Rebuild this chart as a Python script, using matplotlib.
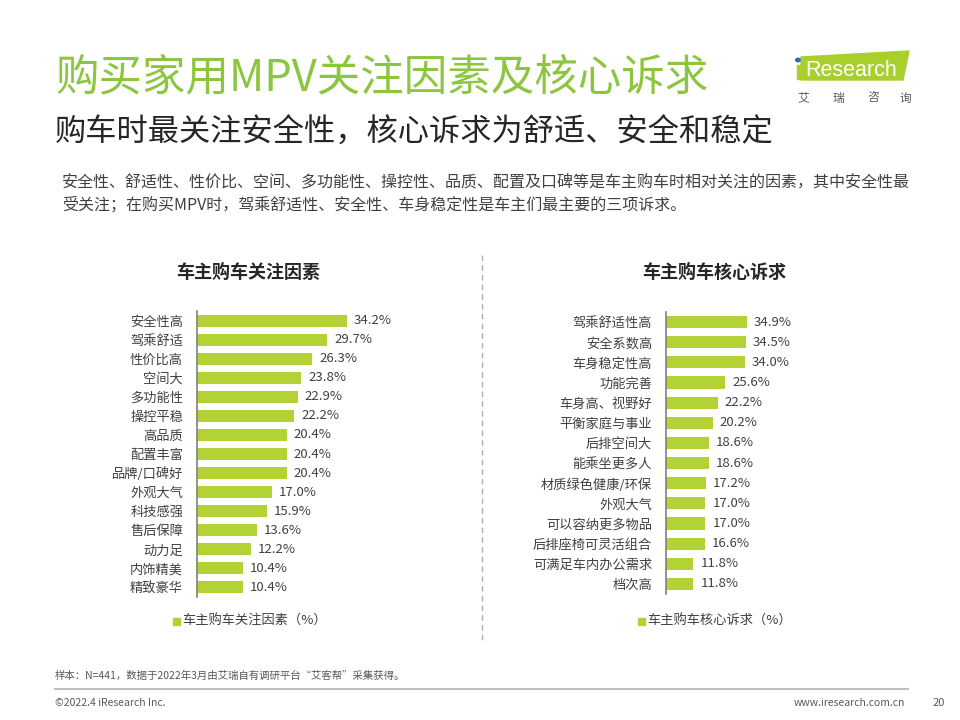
import matplotlib.pyplot as plt
from matplotlib.patches import Polygon, Rectangle, Circle
from matplotlib.lines import Line2D

plt.rcParams['font.family'] = ['Noto Sans CJK SC', 'DejaVu Sans']

left_labels = ['安全性高', '驾乘舒适', '性价比高', '空间大', '多功能性', '操控平稳', '高品质',
               '配置丰富', '品牌/口碑好', '外观大气', '科技感强', '售后保障', '动力足',
               '内饰精美', '精致豪华']
left_values = [34.2, 29.7, 26.3, 23.8, 22.9, 22.2, 20.4, 20.4, 20.4, 17.0, 15.9, 13.6, 12.2,
               10.4, 10.4]

right_labels = ['驾乘舒适性高', '安全系数高', '车身稳定性高', '功能完善', '车身高、视野好',
                '平衡家庭与事业', '后排空间大', '能乘坐更多人', '材质绿色健康/环保', '外观大气',
                '可以容纳更多物品', '后排座椅可灵活组合', '可满足车内办公需求', '档次高']
right_values = [34.9, 34.5, 34.0, 25.6, 22.2, 20.2, 18.6, 18.6, 17.2, 17.0, 17.0, 16.6, 11.8,
                11.8]

W, H = 960, 720
BAR = '#b2d235'
GREEN = '#8cc63f'
TXT = '#404040'

fig = plt.figure(figsize=(9.6, 7.2), dpi=100)


def box(x0, y0, x1, y1):
    # pixel box (top-left origin) -> figure rect
    return [x0 / W, 1 - y1 / H, (x1 - x0) / W, (y1 - y0) / H]


def px(x, y):
    return x / W, 1 - y / H


def bar_panel(rect, labels, values, xmax, height):
    ax = fig.add_axes(rect)
    pos = list(range(len(labels)))
    ax.barh(pos, values, height=height, color=BAR)
    ax.set_ylim(len(labels) - 0.5, -0.5)
    ax.set_xlim(0, xmax)
    ax.set_yticks(pos)
    ax.set_yticklabels(labels, fontsize=9.5, color=TXT)
    ax.tick_params(axis='y', length=0, pad=10)
    ax.set_xticks([])
    for s in ['top', 'right', 'bottom']:
        ax.spines[s].set_visible(False)
    ax.spines['left'].set_color('#808080')
    ax.spines['left'].set_linewidth(1.2)
    for p, v in zip(pos, values):
        ax.annotate('%.1f%%' % v, (v, p), xytext=(5, 0), textcoords='offset points',
                    va='center', ha='left', fontsize=9.5, color=TXT)
    ax.patch.set_alpha(0)
    return ax


bar_panel(box(197, 311, 400, 597), left_labels, left_values, 203 / 4.39, 0.63)
bar_panel(box(666, 312, 820, 594), right_labels, right_values, 154 / 2.32, 0.6)

# titles
fig.text(*px(55, 78), '购买家用MPV关注因素及核心诉求', fontsize=31.3, color=GREEN, va='center')
fig.text(*px(55, 133), '购车时最关注安全性，核心诉求为舒适、安全和稳定', fontsize=22.5,
         color='#262626', va='center')
fig.text(*px(62, 183), '安全性、舒适性、性价比、空间、多功能性、操控性、品质、配置及口碑等是车主购车时相对关注的因素，其中安全性最',
         fontsize=11.5, color=TXT, va='center')
fig.text(*px(62, 205), '受关注；在购买MPV时，驾乘舒适性、安全性、车身稳定性是车主们最主要的三项诉求。',
         fontsize=11.5, color=TXT, va='center')

fig.text(*px(248, 272), '车主购车关注因素', fontsize=13, fontweight='bold', color='#262626',
         ha='center', va='center')
fig.text(*px(714, 272), '车主购车核心诉求', fontsize=13, fontweight='bold', color='#262626',
         ha='center', va='center')

# divider
fig.add_artist(Line2D([482 / W, 482 / W], [1 - 255 / H, 1 - 642 / H], color='#b0b0b0',
                      lw=1, ls=(0, (4, 3))))

# legends
for x, label in [(173, '车主购车关注因素（%）'), (638, '车主购车核心诉求（%）')]:
    fig.add_artist(Rectangle(px(x, 625), 7 / W, 7 / H, color=BAR, transform=fig.transFigure))
    fig.text(*px(x + 9, 621), label, fontsize=9.5, color=TXT, va='center')

# logo
logo = [(801, 57), (909, 51), (903, 80), (801, 80)]
fig.add_artist(Polygon([px(x, y) for x, y in logo], closed=True, color='#a8cf2c',
                       transform=fig.transFigure))
fig.add_artist(Circle(px(798, 60), 2.3 / W, color='#2a6ebb', transform=fig.transFigure))
fig.add_artist(Rectangle(px(796.5, 79), 3 / W, 14 / H, color='#a8cf2c',
                         transform=fig.transFigure))
fig.text(*px(805, 70), 'Research', fontsize=15.5, color='white', va='center',
         family=['Liberation Sans', 'DejaVu Sans'])
for cx, ch in zip([803, 838, 873, 905], '艾瑞咨询'):
    fig.text(*px(cx, 98), ch, fontsize=8.5, color='#595959', va='center', ha='center')

# footer
fig.text(*px(55, 676), '样本：N=441，数据于2022年3月由艾瑞自有调研平台“艾客帮”采集获得。', fontsize=7.5,
         color='#595959', va='center')
fig.add_artist(Line2D([55 / W, 908 / W], [1 - 689 / H, 1 - 689 / H], color='#bfbfbf', lw=1.5))
fig.text(*px(55, 703), '©2022.4 iResearch Inc.', fontsize=7.5, color='#595959', va='center')
fig.text(*px(905, 703), 'www.iresearch.com.cn', fontsize=7.5, color='#595959', va='center',
         ha='right')
fig.text(*px(933, 703), '20', fontsize=8, color='#595959', va='center')

plt.savefig('out.png', dpi=100)
